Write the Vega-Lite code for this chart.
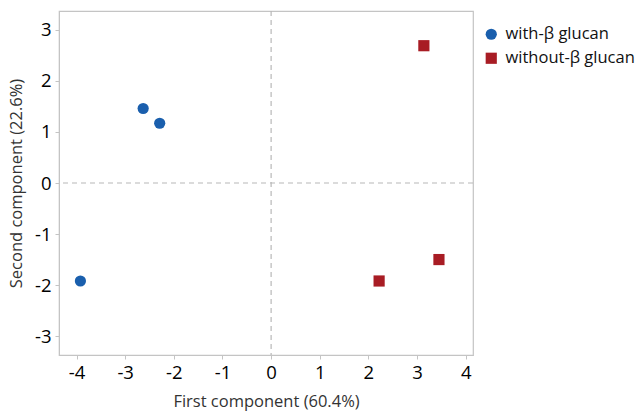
{
  "$schema": "https://vega.github.io/schema/vega-lite/v6.json",
  "width": 414,
  "height": 344,
  "autosize": {"type": "none"},
  "padding": {"left": 59, "top": 11, "right": 165, "bottom": 59},
  "background": "white",
  "config": {
    "font": "Open Sans",
    "view": {"stroke": "#c4c4c4", "strokeWidth": 1.2},
    "axis": {
      "grid": false,
      "domainColor": "#c4c4c4",
      "tickColor": "#c4c4c4",
      "tickSize": 4,
      "labelFont": "Open Sans",
      "labelFontSize": 18.5,
      "labelColor": "#000000",
      "labelPadding": 4,
      "labelExpr": "replace(datum.label, '−', '-')",
      "titleFont": "Open Sans",
      "titleFontSize": 16.5,
      "titleFontWeight": "normal",
      "titleColor": "#333333"
    }
  },
  "datasets": {
    "points": [
      {"pc1": -2.63, "pc2": 1.46, "group": "with-β glucan"},
      {"pc1": -2.29, "pc2": 1.17, "group": "with-β glucan"},
      {"pc1": -3.92, "pc2": -1.92, "group": "with-β glucan"},
      {"pc1": 3.14, "pc2": 2.69, "group": "without-β glucan"},
      {"pc1": 3.45, "pc2": -1.50, "group": "without-β glucan"},
      {"pc1": 2.22, "pc2": -1.92, "group": "without-β glucan"}
    ],
    "zero": [{"v": 0}]
  },
  "layer": [
    {
      "data": {"name": "zero"},
      "mark": {"type": "rule", "color": "#b8b8b8", "strokeDash": [5, 4], "strokeWidth": 1.2},
      "encoding": {"x": {"field": "v", "type": "quantitative"}}
    },
    {
      "data": {"name": "zero"},
      "mark": {"type": "rule", "color": "#b8b8b8", "strokeDash": [5, 4], "strokeWidth": 1.2},
      "encoding": {"y": {"field": "v", "type": "quantitative"}}
    },
    {
      "data": {"name": "points"},
      "mark": {"type": "point", "filled": true, "opacity": 1},
      "encoding": {
        "x": {
          "field": "pc1", "type": "quantitative",
          "scale": {"domain": [-4.36, 4.15], "nice": false, "zero": false},
          "axis": {"values": [-4, -3, -2, -1, 0, 1, 2, 3, 4], "title": "First component (60.4%)", "titlePadding": 12}
        },
        "y": {
          "field": "pc2", "type": "quantitative",
          "scale": {"domain": [-3.37, 3.37], "nice": false, "zero": false},
          "axis": {"values": [-3, -2, -1, 0, 1, 2, 3], "title": "Second component (22.6%)", "titlePadding": 10}
        },
        "color": {
          "field": "group", "type": "nominal",
          "scale": {"domain": ["with-β glucan", "without-β glucan"], "range": ["#1a5fad", "#a81c24"]},
          "legend": {
            "title": null, "orient": "none", "legendX": 424, "legendY": 15,
            "labelFontSize": 16.5, "labelColor": "#111111", "labelFont": "Open Sans",
            "symbolSize": 125, "rowPadding": 7, "labelOffset": 6
          }
        },
        "shape": {
          "field": "group", "type": "nominal",
          "scale": {"domain": ["with-β glucan", "without-β glucan"], "range": ["circle", "square"]},
          "legend": null
        },
        "size": {"value": 125}
      }
    }
  ]
}
